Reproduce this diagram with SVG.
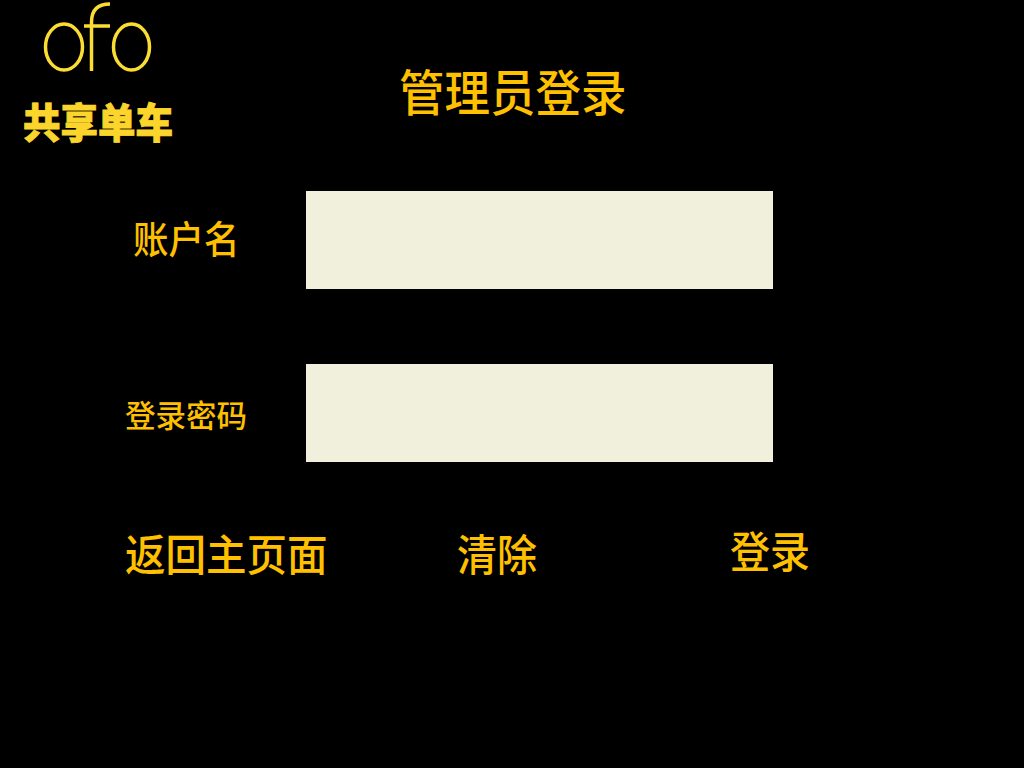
<svg xmlns="http://www.w3.org/2000/svg" width="1024" height="768" viewBox="0 0 1024 768">
<style>
.t{font-family:"Noto Sans CJK SC",sans-serif;fill:#ffc000;font-weight:500}
.box{fill:#f0f0dc}
.logo{fill:none;stroke:#fbdc32;stroke-width:3.500}
</style>
<rect width="1024" height="768" fill="#000"/>
<g id="logo">
<ellipse class="logo" cx="64" cy="47" rx="18.500" ry="23"/>
<path class="logo" d="M84 26H110M91.500 71V22Q91.500 4 110 4"/>
<ellipse class="logo" cx="131.500" cy="47" rx="18" ry="23"/>
<text transform="translate(23 138) scale(1 1.080)" font-size="37.500" style="font-family:'Noto Sans CJK SC',sans-serif;fill:#fbd52c;font-weight:900;stroke:#fbd52c;stroke-width:.8">共享单车</text>
</g>
<g id="title"><text class="t" transform="translate(399 111) scale(1 1.080)" font-size="45.500">管理员登录</text></g>
<g id="username"><text class="t" transform="translate(133 253) scale(1 1.060)" font-size="35.500">账户名</text><rect class="box" x="306" y="191" width="467" height="98"/></g>
<g id="password"><text class="t" x="125" y="427" font-size="30.500">登录密码</text><rect class="box" x="306" y="364" width="467" height="98"/></g>
<g id="back"><text class="t" transform="translate(125 571) scale(1 1.080)" font-size="40.500">返回主页面</text></g>
<g id="clear"><text class="t" transform="translate(457 571) scale(1 1.080)" font-size="40">清除</text></g>
<g id="login"><text class="t" transform="translate(730 568) scale(1 1.080)" font-size="40">登录</text></g>
</svg>
